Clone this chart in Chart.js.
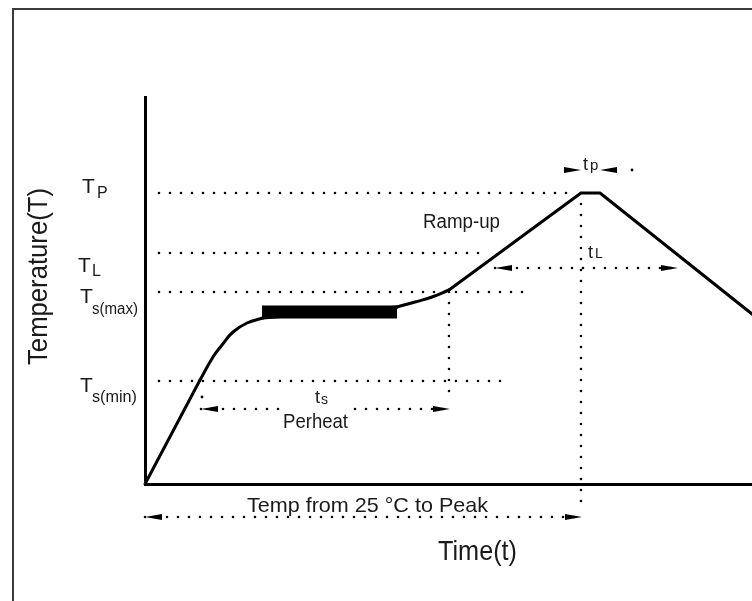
<!DOCTYPE html>
<html lang="en">
<head>
<meta charset="UTF-8">
<title>Reflow profile</title>
<script src="https://cdn.jsdelivr.net/npm/chart.js@4"></script>
<style>
    html, body { margin: 0; padding: 0; background: #fff; }
    #wrap { position: relative; width: 752px; height: 601px; overflow: hidden; }
    #frame {
        position: absolute; left: 12px; top: 8px; right: -10px; bottom: -10px;
        border-left: 2px solid #3a3a3a; border-top: 2px solid #3a3a3a;
    }
    canvas { position: absolute; left: 0; top: 0; }
</style>
</head>
<body>
<div id="wrap">
    <div id="frame"></div>
    <canvas id="profile" width="752" height="601"></canvas>
</div>
<script>
// axis ranges (arbitrary units)
const timeMax = 607;
const tempMax = 387;

// temperature levels: TP, TL, Ts(max), Ts(min)
const levelSubs = ['P', 'L', 's(max)', 's(min)'];
const levelTemps = [291, 231, 192, 103];
const levelStart = 14;
const levelEnds = [431, 341, 381, 357];

// the reflow profile
const profileTime = [0, 55, 68, 77, 88, 102, 118, 252, 270, 287, 304, 436, 455, 607];
const profileTemp = [0, 104, 127, 139, 152, 161, 166, 177, 182, 187, 194, 291, 291, 170];
// stretches of the profile that are drawn as smooth curves [first, last] index
const smoothParts = [[1, 6], [7, 10]];

// soak plateau (thick bar)
const soakTime = [117, 252];
const soakTemp = 172;

// vertical dotted drops
const dropTime = [304, 436];
const dropFrom = [192, 291];
const dropTo = [84, -22];

// time spans with arrows: ts, tL, tp, 25 C to peak
const spanNames = ['ts', 'tL', 'tp', 'peak'];
const spanFrom = [56, 350, 436, 0];
const spanTo = [305, 533, 455, 437];
const spanTemp = [75, 216, 314, -33];
const spanInward = [false, false, true, false];

// loose dots left over in the drawing
const strayTime = [0, 57, 487];
const strayTemp = [-18, 87, 314];

const FONT = '"Liberation Sans", Arial, sans-serif';
const INK = '#1a1a1a';

const dotted = {
    borderColor: '#000',
    borderWidth: 2.6,
    borderDash: [0, 11],
    borderCapStyle: 'round',
    pointRadius: 0,
    showLine: true,
    clip: false
};

const datasets = [];

// split the profile into straight and smooth pieces
const cuts = [0];
smoothParts.forEach(p => { cuts.push(p[0], p[1]); });
cuts.push(profileTime.length - 1);
for (let k = 0; k < cuts.length - 1; k++) {
    const a = cuts[k], b = cuts[k + 1];
    if (a === b) continue;
    const smooth = smoothParts.some(p => p[0] === a && p[1] === b);
    const pts = [];
    for (let i = a; i <= b; i++) pts.push({ x: profileTime[i], y: profileTemp[i] });
    datasets.push({
        data: pts,
        borderColor: '#000', borderWidth: 3, pointRadius: 0, showLine: true,
        tension: smooth ? 0.45 : 0, borderCapStyle: 'round',
        borderJoinStyle: 'round', clip: false
    });
}

datasets.push({
    data: soakTime.map(t => ({ x: t, y: soakTemp })),
    borderColor: '#000', borderWidth: 13, borderCapStyle: 'butt',
    pointRadius: 0, showLine: true, clip: false
});

levelTemps.forEach((v, i) => {
    datasets.push(Object.assign({
        data: [{ x: levelStart, y: v }, { x: levelEnds[i], y: v }]
    }, dotted));
});

dropTime.forEach((t, i) => {
    datasets.push(Object.assign({
        data: [{ x: t, y: dropFrom[i] }, { x: t, y: dropTo[i] }]
    }, dotted));
});

spanNames.forEach((n, i) => {
    if (spanInward[i]) return;
    datasets.push(Object.assign({
        data: [{ x: spanFrom[i], y: spanTemp[i] }, { x: spanTo[i], y: spanTemp[i] }]
    }, dotted));
});

datasets.push({
    data: strayTime.map((t, i) => ({ x: t, y: strayTemp[i] })),
    showLine: false, pointRadius: 1.4, pointBorderWidth: 0,
    pointBackgroundColor: '#000', clip: false
});

function text(ctx, str, x, y, size, width, align, rotate) {
    ctx.save();
    ctx.font = size + 'px ' + FONT;
    ctx.fillStyle = INK;
    const k = width ? width / ctx.measureText(str).width : 1;
    ctx.translate(x, y);
    if (rotate) ctx.rotate(-Math.PI / 2);
    ctx.scale(k, 1);
    ctx.textAlign = align || 'left';
    ctx.textBaseline = 'alphabetic';
    ctx.fillText(str, 0, 0);
    ctx.restore();
}

function arrowHead(ctx, tip, y, dir) {
    ctx.beginPath();
    ctx.moveTo(tip, y);
    ctx.lineTo(tip - dir * 17, y - 3);
    ctx.lineTo(tip - dir * 17, y + 3);
    ctx.closePath();
    ctx.fill();
}

const notes = {
    id: 'notes',
    afterDatasetsDraw(chart) {
        const ctx = chart.ctx;
        const X = v => chart.scales.x.getPixelForValue(v);
        const Y = v => chart.scales.y.getPixelForValue(v);
        const x0 = X(0);

        // arrowheads
        ctx.save();
        ctx.fillStyle = '#000';
        spanNames.forEach((n, i) => {
            const y = Y(spanTemp[i]);
            const d = spanInward[i] ? 1 : -1;
            arrowHead(ctx, X(spanFrom[i]), y, d);
            arrowHead(ctx, X(spanTo[i]), y, -d);
        });
        ctx.restore();

        // level labels on the left
        const tLeft = [-63, -67, -65, -65];
        const tDrop = [0, 19, 11, 11];
        const subLeft = [-48, -53, -53, -53];
        const subDrop = [5, 4, 10.6, 10];
        const subWidth = [null, null, 46, 45];
        levelTemps.forEach((v, i) => {
            const base = Y(v) + tDrop[i];
            text(ctx, 'T', x0 + tLeft[i], base, 21);
            text(ctx, levelSubs[i], x0 + subLeft[i], base + subDrop[i], 16, subWidth[i]);
        });

        // axis titles
        text(ctx, 'Temperature(T)', 47, 276.5, 28, 177, 'center', true);
        text(ctx, 'Time(t)', 477.5, 560, 28, 79, 'center');

        // zone labels
        text(ctx, 'Temp from 25 \u00B0C to Peak', 367.5, 512, 21, 241, 'center');
        text(ctx, 'Ramp-up', 461.5, 228, 20, 77, 'center');

        ctx.save();
        ctx.fillStyle = '#fff';
        ctx.fillRect(280, 406, 72, 26);
        ctx.restore();
        text(ctx, 'Perheat', 315.5, 428, 21, 65, 'center');

        // time span labels
        text(ctx, 't', 315, 403, 18);
        text(ctx, 's', 321, 404, 14);
        text(ctx, 't', 588, 258, 18);
        text(ctx, 'L', 595, 258, 14);
        text(ctx, 't', 583, 170, 18);
        text(ctx, 'p', 590, 170, 15);
    }
};

new Chart(document.getElementById('profile'), {
    type: 'scatter',
    data: { datasets: datasets },
    options: {
        responsive: false,
        animation: false,
        events: [],
        layout: { autoPadding: false, padding: { left: 145, top: 97, right: 0, bottom: 117 } },
        plugins: { legend: { display: false }, tooltip: { enabled: false } },
        scales: {
            x: {
                type: 'linear', min: 0, max: timeMax,
                ticks: { display: false },
                grid: { display: false, drawTicks: false },
                border: { display: true, color: '#000', width: 3 }
            },
            y: {
                type: 'linear', min: 0, max: tempMax,
                ticks: { display: false },
                grid: { display: false, drawTicks: false },
                border: { display: true, color: '#000', width: 3 }
            }
        }
    },
    plugins: [notes]
});
</script>
</body>
</html>
